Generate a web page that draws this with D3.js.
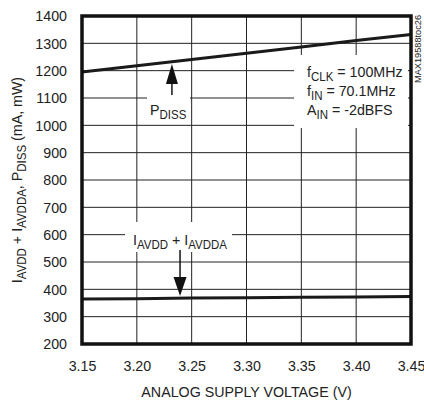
<!DOCTYPE html>
<html lang="en">
<head>
    <meta charset="utf-8">
    <script src="https://d3js.org/d3.v7.min.js"></script>
    <style>
        body { margin: 0; background: #fff; }
        text { font-family: "Liberation Sans", Arial, sans-serif; fill: #222; }
    </style>
</head>
<body>
<script type="text/javascript">

    // data
    var voltage = [3.15, 3.20, 3.25, 3.30, 3.35, 3.40, 3.45];
    var pdiss = [1195, 1218, 1241, 1264, 1287, 1310, 1332];
    var iavdd = [365, 366, 368, 369, 371, 372, 374];
    var xTicks = [3.15, 3.20, 3.25, 3.30, 3.35, 3.40, 3.45];
    var yTicks = [200, 300, 400, 500, 600, 700, 800, 900, 1000, 1100, 1200, 1300, 1400];

    var margin = {top: 16, right: 13, bottom: 58, left: 82},
        width = 424 - margin.left - margin.right,
        height = 402 - margin.top - margin.bottom;

    var SX = 0.92; // squeeze text a bit, the original uses a condensed face

    var svg = d3.select("body")
        .append("svg")
        .attr("width", 424)
        .attr("height", 402);

    var g = svg.append("g").attr("transform", "translate(" + margin.left + "," + margin.top + ")");

    var x = d3.scaleLinear().domain([3.15, 3.45]).range([0, width]);
    var y = d3.scaleLinear().domain([200, 1400]).range([height, 0]);

    // grid
    g.append("g").selectAll("line").data(xTicks).enter().append("line")
        .attr("x1", d => x(d)).attr("x2", d => x(d))
        .attr("y1", 0).attr("y2", height)
        .attr("stroke", "#222").attr("stroke-width", 1);
    g.append("g").selectAll("line").data(yTicks).enter().append("line")
        .attr("x1", 0).attr("x2", width)
        .attr("y1", d => y(d)).attr("y2", d => y(d))
        .attr("stroke", "#222").attr("stroke-width", 1);

    // white boxes behind the labels
    g.append("rect").attr("x", 212).attr("y", 39).attr("width", 114).attr("height", 73).attr("fill", "#fff");
    g.append("rect").attr("x", 65).attr("y", 80).attr("width", 43).attr("height", 26).attr("fill", "#fff");
    g.append("rect").attr("x", 43).attr("y", 206).attr("width", 107).attr("height", 28).attr("fill", "#fff");
    g.append("rect").attr("x", 43).attr("y", 233).attr("width", 107).attr("height", 3).attr("fill", "#fff");

    var line = d3.line().x((d, i) => x(voltage[i])).y(d => y(d));

    g.append("path").datum(pdiss).attr("d", line)
        .attr("fill", "none").attr("stroke", "#1a1a1a").attr("stroke-width", 3);
    g.append("path").datum(iavdd).attr("d", line)
        .attr("fill", "none").attr("stroke", "#1a1a1a").attr("stroke-width", 3);

    // frame
    g.append("rect").attr("width", width).attr("height", height)
        .attr("fill", "none").attr("stroke", "#111").attr("stroke-width", 3.5);

    // axes
    var xAxis = d3.axisBottom(x).tickValues(xTicks).tickSize(0).tickPadding(16).tickFormat(d3.format(".2f"));
    var gx = g.append("g").attr("transform", "translate(0," + height + ")").call(xAxis);
    gx.select(".domain").remove();
    gx.selectAll("text").style("font-size", "15.5px").attr("fill", "#222")
        .attr("transform", "scale(" + SX + ",1)");

    var yAxis = d3.axisLeft(y).tickValues(yTicks).tickSize(0).tickFormat(d3.format("d"));
    var gy = g.append("g").call(yAxis);
    gy.select(".domain").remove();
    gy.selectAll("text").style("font-size", "15.5px").attr("fill", "#222")
        .attr("x", -15 / SX)
        .attr("transform", "scale(" + SX + ",1)");

    // text helper: positioned group + squeezed text, parts = [[str, sub?], ...]
    function label(parent, px, py, parts, anchor, rot) {
        var t = parent.append("g")
            .attr("transform", "translate(" + px + "," + py + ")" + (rot ? " rotate(" + rot + ")" : ""))
            .append("text")
            .attr("transform", "scale(" + SX + ",1)")
            .attr("text-anchor", anchor || "start")
            .style("font-size", "15.5px");
        var low = false;
        parts.forEach(function(p) {
            var s = t.append("tspan").text(p[0]);
            if (p[1] && !low) { s.attr("dy", 4).style("font-size", "12.5px"); low = true; }
            else if (p[1]) { s.style("font-size", "12.5px"); }
            else if (low) { s.attr("dy", -4); low = false; }
        });
        return t;
    }

    label(g, width / 2, height + 53, [["ANALOG SUPPLY VOLTAGE (V)"]], "middle");

    label(svg, 22, margin.top + height / 2,
        [["I"], ["AVDD", 1], [" + I"], ["AVDDA", 1], [", P"], ["DISS", 1], [" (mA, mW)"]], "middle", -90);

    // arrows
    function arrow(xa, yFrom, yTip, headLen, headW) {
        var dir = yTip < yFrom ? 1 : -1;
        g.append("line").attr("x1", xa).attr("x2", xa).attr("y1", yFrom).attr("y2", yTip + dir * (headLen - 2))
            .attr("stroke", "#111").attr("stroke-width", 1.5);
        g.append("path")
            .attr("d", "M" + xa + "," + yTip + "L" + (xa - headW / 2) + "," + (yTip + dir * headLen) +
                "L" + (xa + headW / 2) + "," + (yTip + dir * headLen) + "Z")
            .attr("fill", "#111");
    }
    arrow(x(3.232), 79, y(1232) + 2, 20, 12);
    arrow(x(3.2394), 234, y(368) - 2, 19, 13);

    label(g, 68, 99, [["P"], ["DISS", 1]]);
    label(g, 51, 229, [["I"], ["AVDD", 1], [" + I"], ["AVDDA", 1]]);

    var cond = [["f", "CLK", " = 100MHz"], ["f", "IN", " = 70.1MHz"], ["A", "IN", " = -2dBFS"]];
    cond.forEach(function(c, i) {
        label(g, 225, 61 + i * 19, [[c[0]], [c[1], 1], [c[2]]]);
    });

    svg.append("text")
        .attr("transform", "translate(421,83) rotate(-90)")
        .attr("text-anchor", "start")
        .attr("textLength", 68)
        .attr("lengthAdjust", "spacingAndGlyphs")
        .style("font-size", "9.5px")
        .attr("fill", "#444")
        .text("MAX19588toc26");

</script>
</body>
</html>
